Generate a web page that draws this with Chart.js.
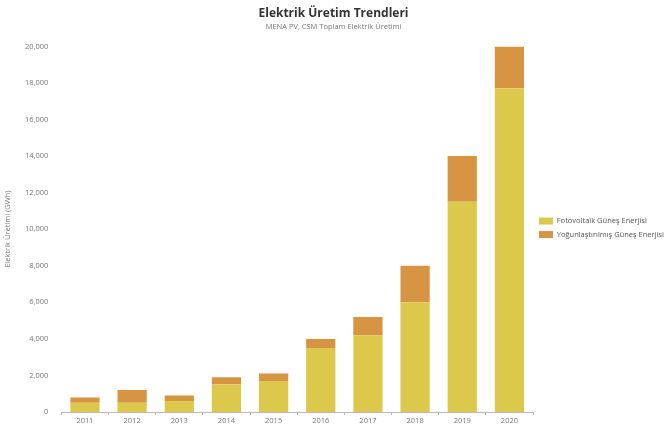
<!DOCTYPE html>
<html>
<head>
<meta charset="utf-8">
<script src="https://cdn.jsdelivr.net/npm/chart.js@4"></script>
<style>
  html, body { margin: 0; padding: 0; background: #fff; }
  #wrap { width: 664px; height: 426px; }
</style>
</head>
<body>
<div id="wrap"><canvas id="chart" width="664" height="426"></canvas></div>
<script>
// ─── Data ─────────────────────────────────────────────────────────────────
const years = ['2011', '2012', '2013', '2014', '2015', '2016', '2017', '2018', '2019', '2020'];
const pvValues = [500, 500, 600, 1500, 1700, 3500, 4200, 6000, 11500, 17700];
const cspValues = [300, 700, 300, 400, 400, 500, 1000, 2000, 2500, 2300];
const seriesNames = ['Fotovoltaik Güneş Enerjisi', 'Yoğunlaştırılmış Güneş Enerjisi'];

Chart.defaults.font.family = "'Open Sans', 'Noto Sans', sans-serif";
Chart.defaults.color = '#666';

new Chart(document.getElementById('chart'), {
    type: 'bar',
    data: {
        labels: years,
        datasets: [
            { label: seriesNames[0], data: pvValues, backgroundColor: '#dcc94b' },
            { label: seriesNames[1], data: cspValues, backgroundColor: '#d79443' }
        ]
    },
    options: {
        responsive: false,
        animation: false,
        layout: { padding: { top: 2, right: 0, left: 3, bottom: 0 } },
        datasets: { bar: { barPercentage: 0.62, categoryPercentage: 1 } },
        plugins: {
            title: {
                display: true,
                text: 'Elektrik Üretim Trendleri',
                font: { size: 12, weight: 'bold' },
                color: '#333',
                padding: { top: 4, bottom: 2 }
            },
            subtitle: {
                display: true,
                text: 'MENA PV, CSM Toplam Elektrik Üretimi',
                font: { size: 7.5 },
                color: '#777',
                padding: { bottom: 15 }
            },
            legend: {
                position: 'right',
                maxWidth: 131,
                // blank title pushes the entries down to the plot's middle
                title: { display: true, text: ' ', font: { size: 8 }, padding: 9 },
                labels: { boxWidth: 14, boxHeight: 7, font: { size: 7.5 }, color: '#555', padding: 6 }
            }
        },
        scales: {
            x: {
                stacked: true,
                grid: { display: true, drawOnChartArea: false, tickLength: 3, color: '#bbb' },
                border: { color: '#bbb' },
                ticks: { font: { size: 7.5 }, color: '#777', padding: 1 }
            },
            y: {
                stacked: true,
                min: 0,
                max: 20000,
                grid: { display: false },
                border: { display: false },
                ticks: { stepSize: 2000, font: { size: 7.5 }, color: '#777', padding: 5 },
                title: { display: true, text: 'Elektrik Üretimi (GWh)', font: { size: 7.5 }, color: '#777', padding: { top: 0, bottom: 8 } }
            }
        }
    }
});
</script>
</body>
</html>
